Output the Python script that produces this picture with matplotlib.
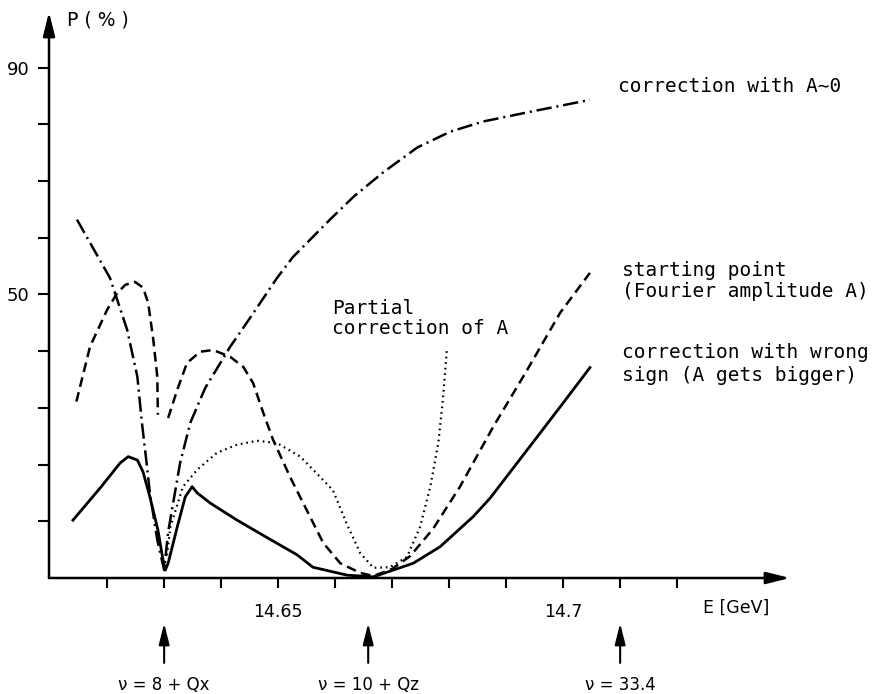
import matplotlib
matplotlib.use("Agg")
import matplotlib.pyplot as plt

# polarization P (%) against beam energy E (GeV)
E_zero = [14.6147, 14.6205, 14.6235, 14.6253, 14.6261, 14.6270, 14.6275, 14.6288,
          14.6300, 14.6307, 14.6328, 14.6346, 14.6372, 14.6416, 14.6451, 14.6498,
          14.6526, 14.6591, 14.6632, 14.6684, 14.6744, 14.6802, 14.6860, 14.6942,
          14.7047]
P_zero = [63.2, 52.9, 43.8, 35.5, 27.4, 19.6, 15.0, 6.7,
          1.4, 8.1, 20.3, 27.4, 33.5, 40.8, 45.9, 52.9,
          56.6, 63.2, 67.2, 71.5, 75.9, 78.7, 80.5, 82.2,
          84.3]

E_start_a = [14.6146, 14.6170, 14.6200, 14.6218, 14.6232, 14.6249, 14.6263, 14.6272,
             14.6281, 14.6288, 14.6289]
P_start_a = [31.1, 40.8, 47.3, 50.3, 51.7, 52.2, 51.2, 48.5,
             42.0, 35.5, 28.8]
E_start_b = [14.6307, 14.6323, 14.6340, 14.6363, 14.6386, 14.6416, 14.6439, 14.6456,
             14.6474, 14.6491, 14.6521, 14.6556, 14.6579, 14.6609, 14.6644, 14.6667,
             14.6700, 14.6732, 14.6772, 14.6819, 14.6877, 14.6937, 14.6995, 14.7047]
P_start_b = [28.2, 33.2, 37.9, 39.9, 40.2, 39.0, 37.2, 34.4,
             29.1, 24.4, 17.8, 10.8, 6.2, 2.6, 0.9, 0.35,
             1.6, 3.9, 8.7, 16.1, 26.6, 36.7, 46.8, 53.8]

E_wrong = [14.6140, 14.6188, 14.6223, 14.6237, 14.6253, 14.6263, 14.6275, 14.6289,
           14.6298, 14.6302, 14.6307, 14.6323, 14.6337, 14.6349, 14.6358, 14.6381,
           14.6428, 14.6481, 14.6533, 14.6561, 14.6621, 14.6667, 14.6737, 14.6784,
           14.6842, 14.6872, 14.6937, 14.6995, 14.7047]
P_wrong = [10.2, 15.9, 20.3, 21.4, 20.8, 18.7, 14.3, 8.5,
           3.2, 1.4, 2.6, 9.0, 14.3, 16.1, 15.0, 13.2,
           10.2, 7.1, 4.1, 1.9, 0.5, 0.2, 2.6, 5.5,
           10.8, 14.1, 22.6, 30.2, 37.1]

E_partial = [14.6305, 14.6311, 14.6333, 14.6358, 14.6393, 14.6428, 14.6463, 14.6498,
             14.6539, 14.6596, 14.6621, 14.6644, 14.6667, 14.6696, 14.6726, 14.6749,
             14.6767, 14.6781, 14.6789, 14.6796]
P_partial = [4.0, 9.0, 16.1, 19.1, 22.1, 23.5, 24.2, 23.8,
             21.4, 15.5, 9.4, 4.4, 1.8, 1.9, 3.7, 9.0,
             16.1, 23.8, 31.4, 40.2]

y_ticks = [10, 20, 30, 40, 50, 60, 70, 80, 90]
y_labels = ["", "", "", "", "50", "", "", "", "90"]
x_ticks = [14.62, 14.63, 14.64, 14.65, 14.66, 14.67, 14.68, 14.69, 14.70, 14.71, 14.72]
x_labels = ["", "", "", "14.65", "", "", "", "", "14.7", "", ""]

resonances = [14.63, 14.6658, 14.71]
resonance_labels = ["ν = 8 + Qx", "ν = 10 + Qz", "ν = 33.4"]

plt.rcParams['lines.scale_dashes'] = False
mono = 'DejaVu Sans Mono'

fig = plt.figure(figsize=(8.74, 6.94), dpi=100)
W, H = 874, 694
ax = fig.add_axes([49 / W, (H - 578) / H, (790 - 49) / W, (578 - 12) / H])
ax.set_xlim(14.6098, 14.7398)
ax.set_ylim(0, 99.8)

ax.plot(E_zero, P_zero, color='k', lw=1.8, linestyle=(0, (11, 3.5, 1.5, 3.5)))
ax.plot(E_start_a, P_start_a, color='k', lw=1.8, linestyle=(0, (7, 4)))
ax.plot(E_start_b, P_start_b, color='k', lw=1.8, linestyle=(0, (7, 4)))
ax.plot(E_wrong, P_wrong, color='k', lw=2.0)
ax.plot(E_partial, P_partial, color='k', lw=1.6, linestyle=(0, (1.2, 2.8)))

# axes drawn as arrows, like the original
for s in ax.spines.values():
    s.set_visible(False)
arrow = dict(arrowstyle='-|>,head_length=0.8,head_width=0.2', color='k', lw=1.8,
             mutation_scale=18, shrinkA=0, shrinkB=0)
ax.annotate('', xy=(1, 0), xytext=(0, 0), xycoords='axes fraction', arrowprops=arrow)
ax.annotate('', xy=(0, 1), xytext=(0, 0), xycoords='axes fraction', arrowprops=arrow)

ax.set_yticks(y_ticks)
ax.set_yticklabels(y_labels)
ax.set_xticks(x_ticks)
ax.set_xticklabels(x_labels)
ax.tick_params(axis='y', direction='out', length=8, width=1.5, labelsize=13, pad=6)
ax.tick_params(axis='x', direction='out', length=7, width=1.5, labelsize=12.5, pad=11)

ax.text(0.024, 0.986, "P ( % )", transform=ax.transAxes, fontsize=13.5, va='center', ha='left')
xt = ax.get_xaxis_transform()
ax.text(14.7246, -0.052, "E [GeV]", transform=xt, fontsize=12.5, va='center', ha='left')

for e, lab in zip(resonances, resonance_labels):
    ax.annotate('', xy=(e, -0.080), xytext=(e, -0.150), xycoords=xt,
                arrowprops=dict(arrowstyle='-|>,head_length=0.8,head_width=0.2',
                                color='k', lw=1.5, mutation_scale=16, shrinkA=0, shrinkB=0),
                annotation_clip=False)
    ax.text(e, -0.189, lab, transform=xt, fontsize=12, ha='center', va='center')

ax.text(14.7096, 86.6, "correction with A∼0", family=mono, fontsize=14, va='center')
ax.text(14.7104, 52.4, "starting point\n(Fourier amplitude A)", family=mono,
        fontsize=14, va='center', linespacing=1.1)
ax.text(14.7104, 37.7, "correction with wrong\nsign (A gets bigger)", family=mono,
        fontsize=14, va='center', linespacing=1.25)
ax.text(14.6595, 45.8, "Partial\ncorrection of A", family=mono,
        fontsize=14, va='center', linespacing=1.1)

fig.savefig("out.png", dpi=100)
